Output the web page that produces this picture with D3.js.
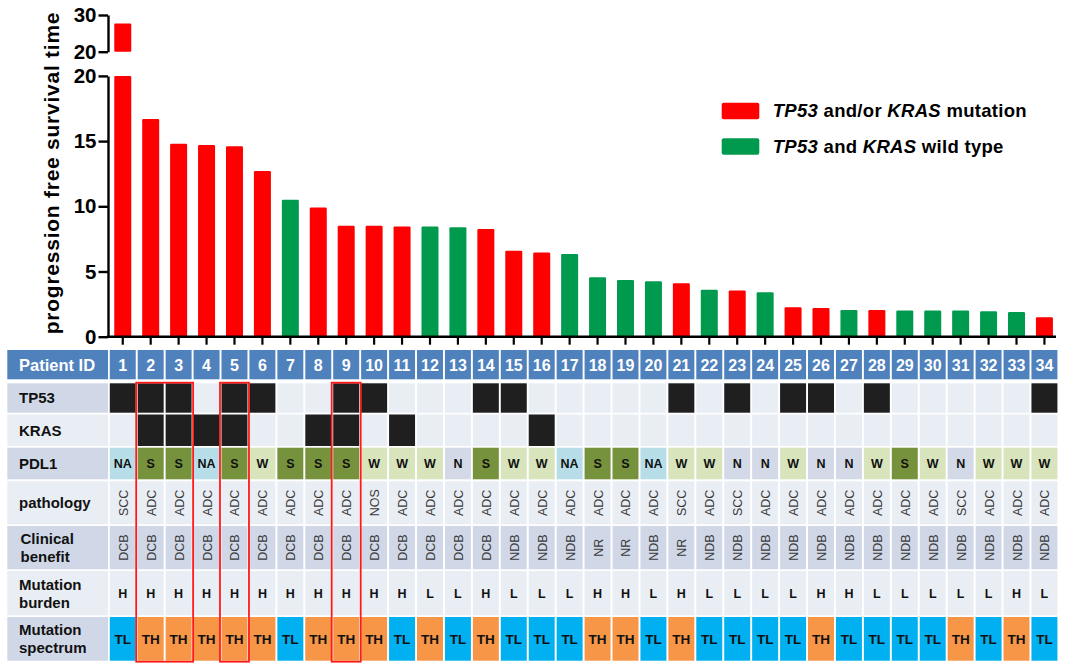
<!DOCTYPE html>
<html><head><meta charset="utf-8">
<script src="https://cdn.jsdelivr.net/npm/d3@7"></script>
<style>body{margin:0;background:#fff}svg{display:block}text{font-family:"Liberation Sans",Arial,sans-serif}</style>
</head><body><svg id="c" width="1080" height="670"></svg>
<script>
const ids = d3.range(1, 35).map(String);
const pfs = [27.7, 16.7, 14.8, 14.7, 14.6, 12.7, 10.5, 9.9, 8.5, 8.5, 8.45, 8.45, 8.4, 8.25, 6.6, 6.45, 6.35, 4.55, 4.35, 4.25, 4.1, 3.6, 3.55, 3.4, 2.25, 2.2, 2.05, 2.05, 2.0, 2.0, 2.0, 1.95, 1.9, 1.5];
const group = ["M","M","M","M","M","M","W","M","M","M","M","W","W","M","M","M","W","W","W","W","M","W","M","W","M","M","W","M","W","W","W","W","W","M"];
const tp53 = [1,1,1,0,1,1,0,0,1,1,0,0,0,1,1,0,0,0,0,0,1,0,1,0,1,1,0,1,0,0,0,0,0,1];
const kras = [0,1,1,1,1,0,0,1,1,0,1,0,0,0,0,1,0,0,0,0,0,0,0,0,0,0,0,0,0,0,0,0,0,0];
const pdl1 = ["NA","S","S","NA","S","W","S","S","S","W","W","W","N","S","W","W","NA","S","S","NA","W","W","N","N","W","N","N","W","S","W","N","W","W","W"];
const pathology = ["SCC","ADC","ADC","ADC","ADC","ADC","ADC","ADC","ADC","NOS","ADC","ADC","ADC","ADC","ADC","ADC","ADC","ADC","ADC","ADC","SCC","ADC","SCC","ADC","ADC","ADC","ADC","ADC","ADC","ADC","SCC","ADC","ADC","ADC"];
const benefit = ["DCB","DCB","DCB","DCB","DCB","DCB","DCB","DCB","DCB","DCB","DCB","DCB","DCB","DCB","NDB","NDB","NDB","NR","NR","NDB","NR","NDB","NDB","NDB","NDB","NDB","NDB","NDB","NDB","NDB","NDB","NDB","NDB","NDB"];
const burden = ["H","H","H","H","H","H","H","H","H","H","H","L","L","H","L","L","L","H","H","L","H","L","L","L","L","H","H","L","L","L","L","L","H","L"];
const spectrum = ["TL","TH","TH","TH","TH","TH","TL","TH","TH","TH","TL","TH","TL","TH","TL","TL","TL","TH","TH","TL","TH","TL","TL","TL","TL","TH","TL","TL","TL","TL","TH","TL","TH","TL"];
const highlight = [["2","3"],["5","5"],["9","9"]];
const lowerTicks = [0,5,10,15,20];
const upperTicks = [20,30];
const legendItems = [
  {key:"M", parts:[["TP53",true],[" and/or ",false],["KRAS",true],[" mutation",false]]},
  {key:"W", parts:[["TP53",true],[" and ",false],["KRAS",true],[" wild type",false]]}
];

const groupColor = {M:"#ff0000", W:"#009a4e"};
const pdlColor = {S:"#76923c", W:"#d7e4bc", NA:"#b7dee8", N:"#d3d9e7"};
const specColor = {TL:"#00b0f0", TH:"#f79646"};
const dark = "#d0d8e8", light = "#e9edf4";

const svg = d3.select("#c");
const x = d3.scaleBand().domain(ids).range([108.8, 1058.4]).paddingInner(0.07).paddingOuter(0.035);
const yL = d3.scaleLinear().domain([0,20]).range([336.7, 75.9]);
const yU = d3.scaleLinear().domain([20,30]).range([51.7, 15]);
const cx = id => x(id) + x.bandwidth()/2;
const barW = 17;

// bars
const bars = svg.append("g");
ids.forEach((id,i)=>{
  const v = pfs[i];
  bars.append("rect").attr("x", cx(id)-barW/2).attr("width", barW)
    .attr("y", yL(Math.min(v,20))).attr("height", yL(0)-yL(Math.min(v,20)))
    .attr("fill", groupColor[group[i]]).attr("rx",1.2);
  if (v > 20) {
    bars.append("rect").attr("x", cx(id)-barW/2).attr("width", barW)
      .attr("y", yU(v)).attr("height", yU(20)-yU(v))
      .attr("fill", groupColor[group[i]]).attr("rx",1.2);
  }
});

// axes
const axL = svg.append("g").attr("transform","translate(108,0)")
  .call(d3.axisLeft(yL).tickValues(lowerTicks).tickSize(9.5).tickPadding(2).tickSizeOuter(0));
const axU = svg.append("g").attr("transform","translate(108,0)")
  .call(d3.axisLeft(yU).tickValues(upperTicks).tickSize(9.5).tickPadding(2).tickSizeOuter(0));
[axL, axU].forEach(a=>{
  a.selectAll("path,line").attr("stroke","#000").attr("stroke-width",2.4);
  a.selectAll("text").attr("font-size",20.5).attr("font-weight","bold").attr("fill","#000");
});
const axB = svg.append("g").attr("transform","translate(0,336.7)")
  .call(d3.axisBottom(x).tickSize(8).tickSizeOuter(0).tickFormat(""));
axB.select("path").attr("d","M106.8,0H1056").attr("stroke","#000").attr("stroke-width",2.4);
axB.selectAll("line").attr("stroke","#000").attr("stroke-width",2.2);

svg.append("text").attr("transform","translate(58.8,173) rotate(-90)")
  .attr("text-anchor","middle").attr("font-size",21).attr("letter-spacing",0.75).attr("font-weight","bold")
  .text("progression free survival time");

// legend
legendItems.forEach((it,i)=>{
  const yy = 102.7 + i*35.6;
  svg.append("rect").attr("x",721.7).attr("y",yy).attr("width",37.6).attr("height",16.5)
    .attr("rx",2).attr("fill",groupColor[it.key]);
  const t = svg.append("text").attr("x",772.7).attr("y",yy+14.2).attr("font-size",18.5)
    .attr("letter-spacing",0.3).attr("font-weight","bold");
  it.parts.forEach(p=>t.append("tspan").attr("font-style",p[1]?"italic":"normal").text(p[0]));
});

// table
const rows = [
  {label:["TP53"], y0:383.3, y1:412.7, lab:dark},
  {label:["KRAS"], y0:414.5, y1:446, lab:light},
  {label:["PDL1"], y0:447.7, y1:479.3, lab:dark},
  {label:["pathology"], y0:481.3, y1:524.3, lab:light},
  {label:["Clinical","benefit"], y0:526, y1:569.3, lab:dark},
  {label:["Mutation","burden"], y0:571, y1:615.3, lab:light},
  {label:["Mutation","spectrum"], y0:617, y1:660.7, lab:dark}
];
const tbl = svg.append("g");
// header
tbl.append("rect").attr("x",7.3).attr("y",350).attr("width",100.7).attr("height",29.3).attr("fill","#4f81bd");
tbl.append("text").attr("x",19).attr("y",370.5).attr("font-size",16.5).attr("font-weight","bold").attr("fill","#fff").text("Patient ID");
ids.forEach(id=>{
  tbl.append("rect").attr("x",x(id)).attr("y",350).attr("width",x.bandwidth()).attr("height",29.3).attr("fill","#4f81bd");
  tbl.append("text").attr("x",cx(id)).attr("y",370.5).attr("text-anchor","middle").attr("font-size",16)
    .attr("font-weight","bold").attr("fill","#fff").text(id);
});
rows.forEach((r,ri)=>{
  tbl.append("rect").attr("x",7.3).attr("y",r.y0).attr("width",100.7).attr("height",r.y1-r.y0).attr("fill",r.lab);
  const mid = (r.y0+r.y1)/2;
  r.label.forEach((l,li)=>{
    const off = r.label.length===1 ? 0 : (li===0?-9:9);
    tbl.append("text").attr("x", ri===4?20.5:19).attr("y",mid+off).attr("dy","0.36em")
      .attr("font-size",15).attr("font-weight","bold").attr("fill","#111").text(l);
  });
});
ids.forEach((id,i)=>{
  const xx = x(id), w = x.bandwidth();
  const cell = (r, fill) => tbl.append("rect").attr("x",xx).attr("y",r.y0).attr("width",w).attr("height",r.y1-r.y0).attr("fill",fill);
  const mid = r => (r.y0+r.y1)/2;
  cell(rows[0], tp53[i] ? "#1f1f1f" : light);
  cell(rows[1], kras[i] ? "#1f1f1f" : light);
  cell(rows[2], pdlColor[pdl1[i]]);
  tbl.append("text").attr("x",cx(id)).attr("y",mid(rows[2])).attr("dy","0.36em").attr("text-anchor","middle")
    .attr("font-size",12.5).attr("font-weight","bold").attr("fill","#111").text(pdl1[i]);
  cell(rows[3], light);
  tbl.append("text").attr("transform",`translate(${cx(id)+0.5},${mid(rows[3])}) rotate(-90)`).attr("dy","0.36em")
    .attr("text-anchor","middle").attr("font-size",12.5).attr("fill","#3a3a3a").text(pathology[i]);
  cell(rows[4], dark);
  tbl.append("text").attr("transform",`translate(${cx(id)+0.5},${mid(rows[4])}) rotate(-90)`).attr("dy","0.36em")
    .attr("text-anchor","middle").attr("font-size",12.5).attr("fill","#3a3a3a").text(benefit[i]);
  cell(rows[5], light);
  tbl.append("text").attr("x",cx(id)).attr("y",mid(rows[5])).attr("dy","0.36em").attr("text-anchor","middle")
    .attr("font-size",12.5).attr("font-weight","bold").attr("fill","#111").text(burden[i]);
  cell(rows[6], specColor[spectrum[i]]);
  tbl.append("text").attr("x",cx(id)).attr("y",mid(rows[6])).attr("dy","0.36em").attr("text-anchor","middle")
    .attr("font-size",13.5).attr("font-weight","bold").attr("fill","#111").text(spectrum[i]);
});
// highlight outlines
highlight.forEach(([a,b])=>{
  const x0 = x(a)-1.5, x1 = x(b)+x.bandwidth()+1.5;
  tbl.append("rect").attr("x",x0).attr("y",382.7).attr("width",x1-x0).attr("height",661.7-382.7)
    .attr("fill","none").attr("stroke","#ff1a1a").attr("stroke-width",1.8);
});
</script></body></html>
